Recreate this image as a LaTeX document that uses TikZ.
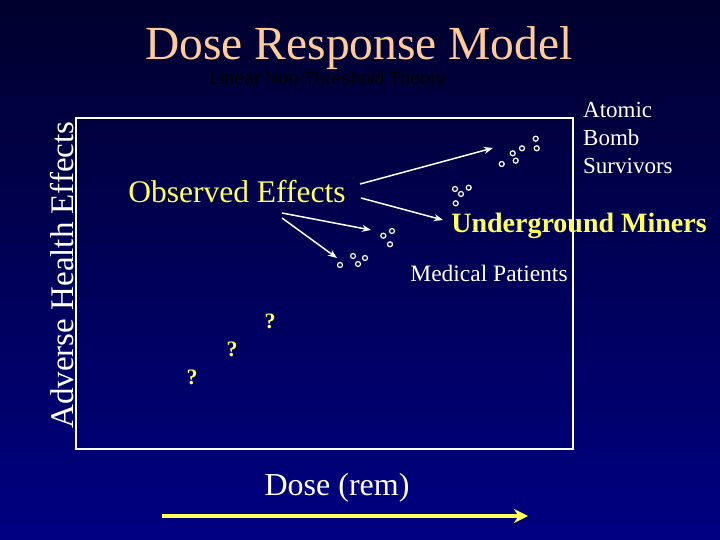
\documentclass[tikz,border=0pt]{standalone}
\usepackage{fontspec}
\setmainfont{Liberation Serif}
\newfontfamily\arialf{Liberation Sans}
\usetikzlibrary{arrows.meta}
\definecolor{titlec}{RGB}{255,204,153}
\definecolor{yel}{RGB}{255,255,90}
\definecolor{navy}{RGB}{0,0,130}
\definecolor{topc}{RGB}{0,0,45}
\begin{document}
\begin{tikzpicture}[x=1pt,y=-1pt,
  ring/.style={circle,draw=white,line width=1.2pt,inner sep=0pt,minimum size=5pt},
  qm/.style={text=yel,font=\bfseries\fontsize{22}{22}\selectfont,inner sep=0pt},
  wtxt/.style={text=white,inner sep=0pt},
  arr/.style={draw=white,line width=1.5pt,-{Stealth[length=9pt,width=7pt]}}]
\shade[top color=topc,bottom color=navy] (0,0) rectangle (720,540);
\useasboundingbox (0,0) rectangle (720,540);
\draw[white,line width=1.5pt] (76,118) rectangle (573,449);
\node[text=titlec,font=\fontsize{47.5}{48}\selectfont,inner sep=0pt] (title) at (359,48) {Dose Response Model};
\node[text=black,font=\arialf\fontsize{18}{18}\selectfont,inner sep=0pt] (sub) at (328,80) {Linear Non-Threshold Theory};
\node[wtxt,rotate=90,font=\fontsize{33}{33}\selectfont] (yl) at (62,275) {Adverse Health Effects};
\node[text=yel,font=\fontsize{31.5}{32}\selectfont,inner sep=0pt] (obs) at (237,192) {Observed Effects};
\node[text=yel,font=\bfseries\fontsize{28}{28}\selectfont,inner sep=0pt] (um) at (579,226) {Underground Miners};
\node[wtxt,font=\fontsize{23.5}{24}\selectfont] (mp) at (489,273) {Medical Patients};
\node[wtxt,align=left,anchor=west,font=\fontsize{23}{28}\selectfont] (ab) at (583,138) {Atomic\\Bomb\\Survivors};
\node[wtxt,font=\fontsize{32}{32}\selectfont] (dose) at (337,488) {Dose (rem)};
\foreach \p [count=\i] in {(501.7,164),(512.7,153.3),(515.7,160.7),(522,148.3),(535.7,138.7),(536.7,148.3),
  (455,189),(461,194),(468.7,187.7),(455.7,203.3),
  (383.3,235.7),(392,231),(390,244.3),
  (340,265),(353,256),(358,264),(365,258)}
  \node[ring] (r\i) at \p {};
\node[qm] (q1) at (270,321) {?};
\node[qm] (q2) at (232,349) {?};
\node[qm] (q3) at (192,377) {?};
\coordinate (a1s) at (360,184); \coordinate (a1e) at (493,148);
\coordinate (a2s) at (361,198); \coordinate (a2e) at (443,220);
\coordinate (a3s) at (282,213); \coordinate (a3e) at (371,230);
\coordinate (a4s) at (282,218); \coordinate (a4e) at (337,258);
\draw[arr] (a1s) -- (a1e);
\draw[arr] (a2s) -- (a2e);
\draw[arr] (a3s) -- (a3e);
\draw[arr] (a4s) -- (a4e);
\coordinate (ds) at (162,516); \coordinate (de) at (528,516);
\draw[yel,line width=4pt,-{Stealth[length=14pt,width=14pt]}] (ds) -- (de);
\end{tikzpicture}
\end{document}
